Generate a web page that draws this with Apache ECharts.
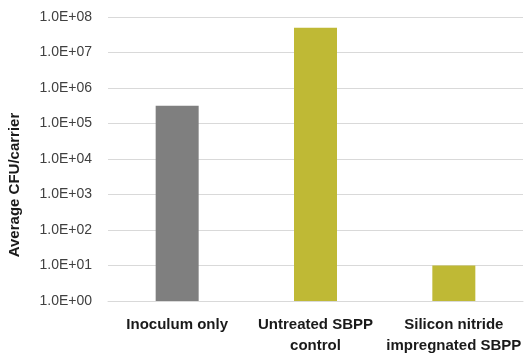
<!DOCTYPE html>
<html>
<head>
<meta charset="utf-8">
<script src="https://cdn.jsdelivr.net/npm/echarts@6/dist/echarts.min.js"></script>
<style>html,body{margin:0;padding:0;background:#fff;}#c{width:524px;height:353px;}</style>
</head>
<body>
<div id="c"></div>
<script>
const categories = ['Inoculum only', 'Untreated SBPP\ncontrol', 'Silicon nitride\nimpregnated SBPP'];
const values = [316000, 50000000, 10];
const barColors = ['#7f7f7f', '#bfb935', '#bfb935'];
const yTitle = 'Average CFU/carrier';

const chart = echarts.init(document.getElementById('c'), null, {renderer: 'canvas'});
chart.setOption({
  animation: false,
  backgroundColor: '#ffffff',
  grid: {left: 108, right: 1, top: 17, bottom: 52, containLabel: false, outerBoundsMode: 'none'},
  graphic: [{
    type: 'text',
    x: 15, y: 185,
    rotation: Math.PI / 2,
    style: {
      text: yTitle, fill: '#1a1a1a',
      font: 'bold 15px "Liberation Sans"',
      align: 'center', verticalAlign: 'middle'
    }
  }],
  xAxis: {
    type: 'category',
    data: categories,
    axisLine: {show: true, lineStyle: {color: '#d9d9d9', width: 1}},
    axisTick: {show: false},
    axisLabel: {
      interval: 0, margin: 13, color: '#1a1a1a',
      fontFamily: 'Liberation Sans', fontWeight: 'bold', fontSize: 15, lineHeight: 21
    }
  },
  yAxis: {
    type: 'log',
    logBase: 10,
    min: 1,
    max: 100000000,
    axisLine: {show: false},
    axisTick: {show: false},
    splitLine: {show: true, lineStyle: {color: '#d9d9d9', width: 1}},
    axisLabel: {
      margin: 16, color: '#404040', fontFamily: 'Liberation Sans', fontSize: 14,
      formatter: function (v) {
        const e = Math.round(Math.log10(v));
        return '1.0E+' + (e < 10 ? '0' + e : e);
      }
    }
  },
  series: [{
    type: 'bar',
    barWidth: 43,
    data: values.map((v, i) => ({value: v, itemStyle: {color: barColors[i]}}))
  }]
});
</script>
</body>
</html>
